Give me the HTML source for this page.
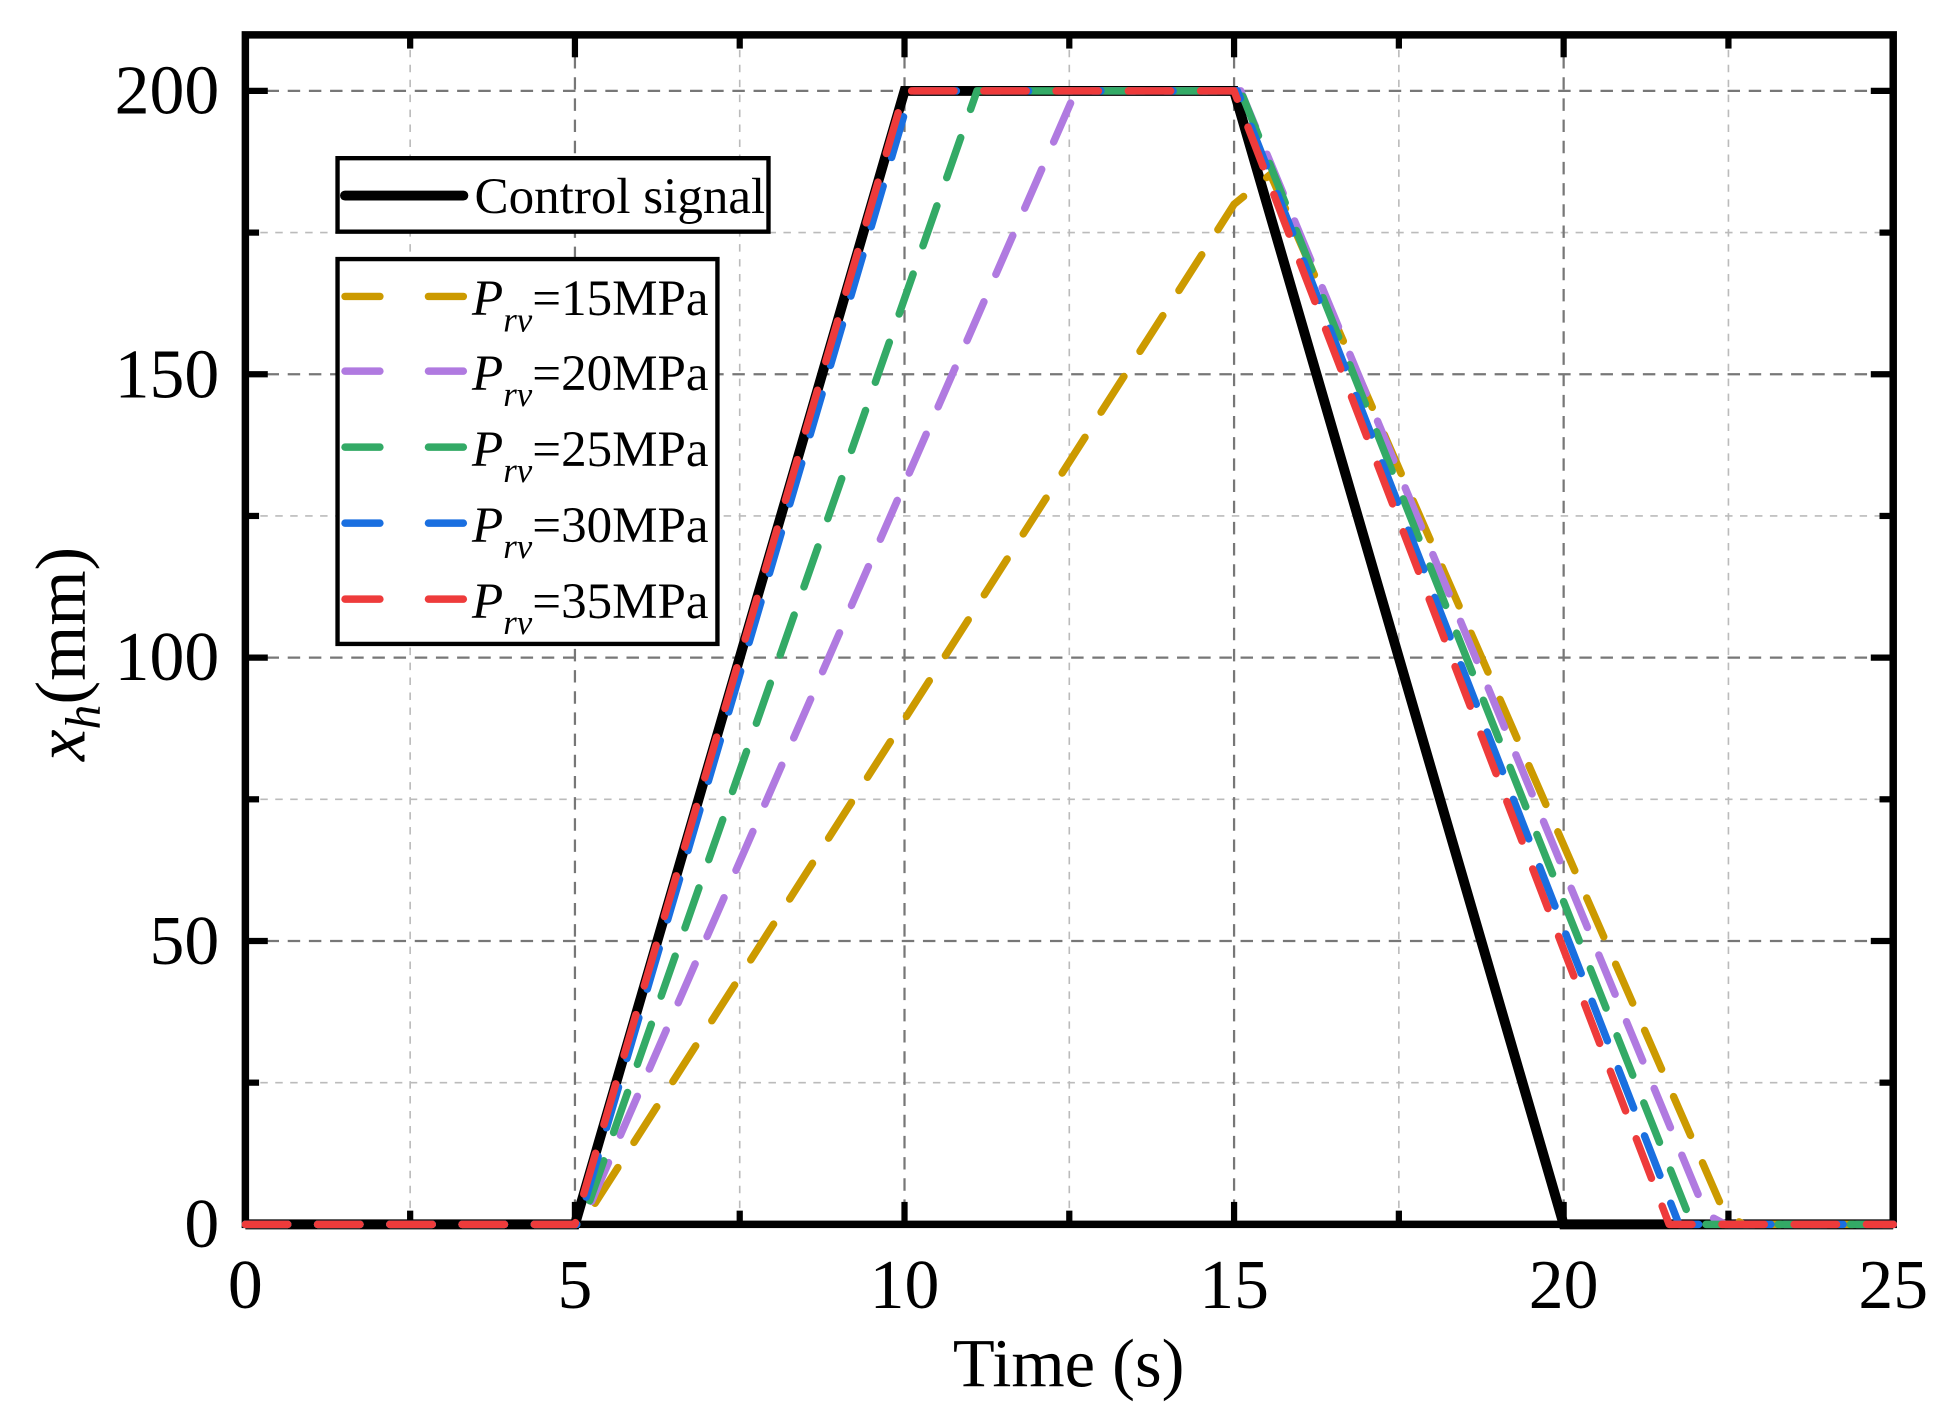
<!DOCTYPE html>
<html><head><style>
html,body{margin:0;padding:0;background:#fff;}
svg{display:block;}
text{font-family:"Liberation Serif",serif;fill:#000;}
</style></head><body>
<svg width="1953" height="1422" viewBox="0 0 1568 1141.7" preserveAspectRatio="none" xmlns="http://www.w3.org/2000/svg">
<rect width="1568" height="1141.7" fill="#fff"/>
<g stroke="#bbb" stroke-width="1.3" stroke-dasharray="6,6" fill="none">
<line x1="329.3" y1="28" x2="329.3" y2="983"/><line x1="593.9" y1="28" x2="593.9" y2="983"/>
<line x1="858.5" y1="28" x2="858.5" y2="983"/><line x1="1123.1" y1="28" x2="1123.1" y2="983"/>
<line x1="1387.7" y1="28" x2="1387.7" y2="983"/>
<line x1="197" y1="869.25" x2="1520" y2="869.25"/><line x1="197" y1="641.75" x2="1520" y2="641.75"/>
<line x1="197" y1="414.25" x2="1520" y2="414.25"/><line x1="197" y1="186.75" x2="1520" y2="186.75"/>
</g>
<g stroke="#777" stroke-width="1.8" stroke-dasharray="10,7" fill="none">
<line x1="461.6" y1="28" x2="461.6" y2="983"/><line x1="726.2" y1="28" x2="726.2" y2="983"/>
<line x1="990.8" y1="28" x2="990.8" y2="983"/><line x1="1255.4" y1="28" x2="1255.4" y2="983"/>
<line x1="197" y1="755.5" x2="1520" y2="755.5"/><line x1="197" y1="528" x2="1520" y2="528"/>
<line x1="197" y1="300.5" x2="1520" y2="300.5"/><line x1="197" y1="73" x2="1520" y2="73"/>
</g>
<polyline fill="none" stroke="#000" stroke-width="8" stroke-linejoin="miter" points="197,983 461.6,983 726.2,73 990.8,73 1255.4,983 1520,983"/>
<rect x="197" y="28" width="1323" height="955" fill="none" stroke="#000" stroke-width="6"/>
<g stroke="#000" stroke-width="5">
<line x1="461.6" y1="983" x2="461.6" y2="965"/><line x1="726.2" y1="983" x2="726.2" y2="965"/><line x1="990.8" y1="983" x2="990.8" y2="965"/><line x1="1255.4" y1="983" x2="1255.4" y2="965"/>
<line x1="329.3" y1="983" x2="329.3" y2="972"/><line x1="593.9" y1="983" x2="593.9" y2="972"/><line x1="858.5" y1="983" x2="858.5" y2="972"/><line x1="1123.1" y1="983" x2="1123.1" y2="972"/><line x1="1387.7" y1="983" x2="1387.7" y2="972"/>
<line x1="461.6" y1="28" x2="461.6" y2="46"/><line x1="726.2" y1="28" x2="726.2" y2="46"/><line x1="990.8" y1="28" x2="990.8" y2="46"/><line x1="1255.4" y1="28" x2="1255.4" y2="46"/>
<line x1="329.3" y1="28" x2="329.3" y2="39"/><line x1="593.9" y1="28" x2="593.9" y2="39"/><line x1="858.5" y1="28" x2="858.5" y2="39"/><line x1="1123.1" y1="28" x2="1123.1" y2="39"/><line x1="1387.7" y1="28" x2="1387.7" y2="39"/>
<line x1="197" y1="755.5" x2="215" y2="755.5"/><line x1="197" y1="528" x2="215" y2="528"/><line x1="197" y1="300.5" x2="215" y2="300.5"/><line x1="197" y1="73" x2="215" y2="73"/>
<line x1="197" y1="869.25" x2="208" y2="869.25"/><line x1="197" y1="641.75" x2="208" y2="641.75"/><line x1="197" y1="414.25" x2="208" y2="414.25"/><line x1="197" y1="186.75" x2="208" y2="186.75"/>
<line x1="1520" y1="755.5" x2="1502" y2="755.5"/><line x1="1520" y1="528" x2="1502" y2="528"/><line x1="1520" y1="300.5" x2="1502" y2="300.5"/><line x1="1520" y1="73" x2="1502" y2="73"/>
<line x1="1520" y1="869.25" x2="1509" y2="869.25"/><line x1="1520" y1="641.75" x2="1509" y2="641.75"/><line x1="1520" y1="414.25" x2="1509" y2="414.25"/><line x1="1520" y1="186.75" x2="1509" y2="186.75"/>
</g>
<g fill="none" stroke-width="6" stroke-linecap="round" stroke-dasharray="34,24" stroke-linejoin="round">
<polyline stroke="#cc9a00" points="197,983 466.9,983 990.8,164 1020,140 1385,975 1400,983 1520,983"/>
<polyline stroke="#b07ae0" points="197,983 466.9,983 863.8,73 996.1,73 1370,975 1385,983 1520,983"/>
<polyline stroke="#33aa66" points="197,983 466.9,983 784.4,73 996.1,73 1358.6,983 1520,983"/>
<polyline stroke="#1a6fe0" points="197,983 464.2,983 731.5,73 993.4,73 1348,983 1520,983"/>
<polyline stroke="#ee3b3b" points="197,983 461.6,983 726.2,73 990.8,73 1340.1,983 1520,983"/>
</g>
<g font-size="56" text-anchor="middle">
<text x="197" y="1050">0</text><text x="461.6" y="1050">5</text><text x="726.2" y="1050">10</text>
<text x="990.8" y="1050">15</text><text x="1255.4" y="1050">20</text><text x="1520" y="1050">25</text>
</g>
<g font-size="56" text-anchor="end">
<text x="176" y="1001">0</text><text x="176" y="774">50</text><text x="176" y="546">100</text>
<text x="176" y="319">150</text><text x="176" y="91">200</text>
</g>
<text x="858" y="1113" font-size="55" text-anchor="middle">Time (s)</text>
<text transform="translate(68,525) rotate(-90)" font-size="57" text-anchor="middle"><tspan font-style="italic">x</tspan><tspan font-style="italic" font-size="40" dy="12">h</tspan><tspan dy="-12">(mm)</tspan></text>
<rect x="271" y="127" width="346" height="59" fill="#fff" stroke="#000" stroke-width="3.5"/>
<line x1="277" y1="157" x2="372" y2="157" stroke="#000" stroke-width="8" stroke-linecap="round"/>
<text x="381" y="171" font-size="41">Control signal</text>
<rect x="271" y="208" width="305" height="309" fill="#fff" stroke="#000" stroke-width="3.5"/>
<g stroke-width="6" stroke-linecap="round">
<line x1="277" y1="238" x2="305" y2="238" stroke="#cc9a00"/><line x1="344" y1="238" x2="372" y2="238" stroke="#cc9a00"/>
<line x1="277" y1="298" x2="305" y2="298" stroke="#b07ae0"/><line x1="344" y1="298" x2="372" y2="298" stroke="#b07ae0"/>
<line x1="277" y1="359" x2="305" y2="359" stroke="#33aa66"/><line x1="344" y1="359" x2="372" y2="359" stroke="#33aa66"/>
<line x1="277" y1="420" x2="305" y2="420" stroke="#1a6fe0"/><line x1="344" y1="420" x2="372" y2="420" stroke="#1a6fe0"/>
<line x1="277" y1="481" x2="305" y2="481" stroke="#ee3b3b"/><line x1="344" y1="481" x2="372" y2="481" stroke="#ee3b3b"/>
</g>
<g font-size="41">
<text x="379" y="253"><tspan font-style="italic">P</tspan><tspan font-style="italic" font-size="28" dy="13">rv</tspan><tspan dy="-13">=15MPa</tspan></text>
<text x="379" y="313"><tspan font-style="italic">P</tspan><tspan font-style="italic" font-size="28" dy="13">rv</tspan><tspan dy="-13">=20MPa</tspan></text>
<text x="379" y="374"><tspan font-style="italic">P</tspan><tspan font-style="italic" font-size="28" dy="13">rv</tspan><tspan dy="-13">=25MPa</tspan></text>
<text x="379" y="435"><tspan font-style="italic">P</tspan><tspan font-style="italic" font-size="28" dy="13">rv</tspan><tspan dy="-13">=30MPa</tspan></text>
<text x="379" y="496"><tspan font-style="italic">P</tspan><tspan font-style="italic" font-size="28" dy="13">rv</tspan><tspan dy="-13">=35MPa</tspan></text>
</g>
</svg>
</body></html>
